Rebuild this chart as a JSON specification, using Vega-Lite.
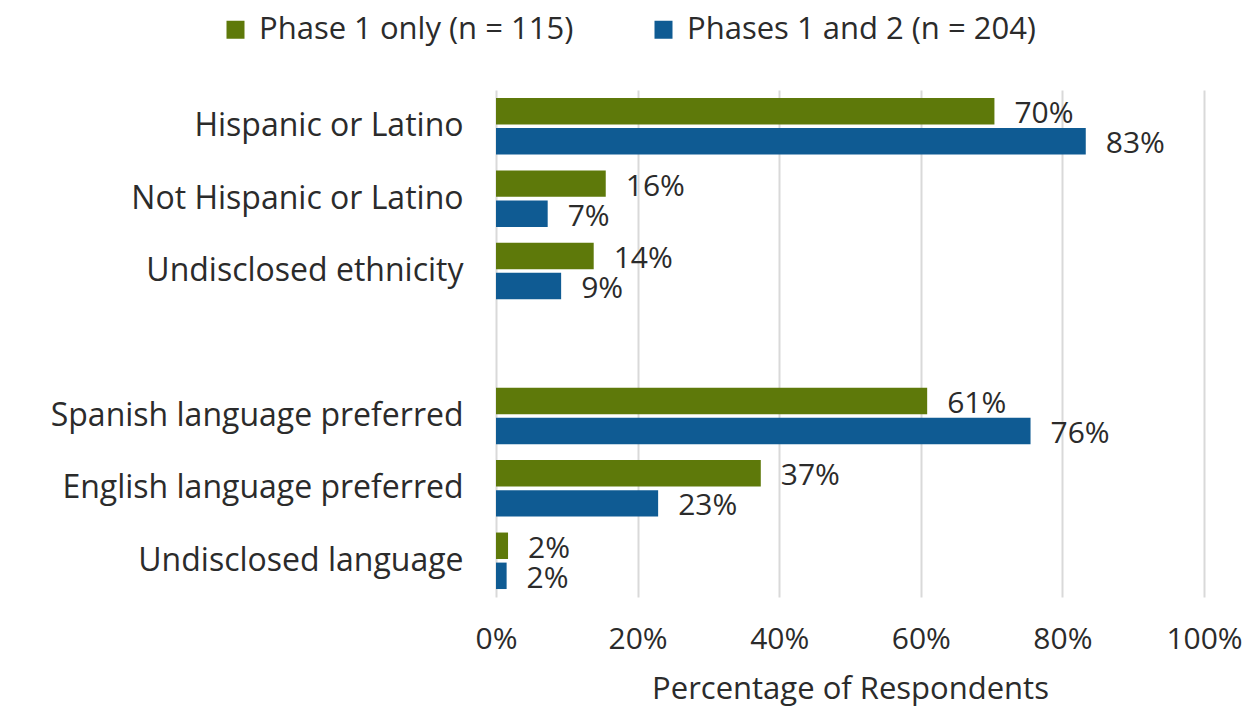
{
  "$schema": "https://vega.github.io/schema/vega-lite/v6.json",
  "autosize": {"type": "none"},
  "padding": {"left": 496, "top": 90, "right": 53, "bottom": 112},
  "width": 708,
  "height": 507,
  "background": "white",
  "config": {
    "view": {"stroke": null},
    "font": "Open Sans",
    "text": {"font": "Open Sans"}
  },
  "data": {
    "values": [
      {"category": "Hispanic or Latino", "series": "Phase 1 only (n = 115)", "value": 70.4, "label": "70%"},
      {"category": "Hispanic or Latino", "series": "Phases 1 and 2 (n = 204)", "value": 83.3, "label": "83%"},
      {"category": "Not Hispanic or Latino", "series": "Phase 1 only (n = 115)", "value": 15.5, "label": "16%"},
      {"category": "Not Hispanic or Latino", "series": "Phases 1 and 2 (n = 204)", "value": 7.3, "label": "7%"},
      {"category": "Undisclosed ethnicity", "series": "Phase 1 only (n = 115)", "value": 13.8, "label": "14%"},
      {"category": "Undisclosed ethnicity", "series": "Phases 1 and 2 (n = 204)", "value": 9.2, "label": "9%"},
      {"category": "Spanish language preferred", "series": "Phase 1 only (n = 115)", "value": 60.9, "label": "61%"},
      {"category": "Spanish language preferred", "series": "Phases 1 and 2 (n = 204)", "value": 75.5, "label": "76%"},
      {"category": "English language preferred", "series": "Phase 1 only (n = 115)", "value": 37.4, "label": "37%"},
      {"category": "English language preferred", "series": "Phases 1 and 2 (n = 204)", "value": 22.9, "label": "23%"},
      {"category": "Undisclosed language", "series": "Phase 1 only (n = 115)", "value": 1.7, "label": "2%"},
      {"category": "Undisclosed language", "series": "Phases 1 and 2 (n = 204)", "value": 1.5, "label": "2%"}
    ]
  },
  "encoding": {
    "y": {
      "field": "category",
      "type": "nominal",
      "scale": {
        "domain": ["Hispanic or Latino", "Not Hispanic or Latino", "Undisclosed ethnicity", " ", "Spanish language preferred", "English language preferred", "Undisclosed language"],
        "paddingInner": 0.22,
        "paddingOuter": 0.11
      },
      "axis": {
        "title": null,
        "domain": false,
        "ticks": false,
        "labelPadding": 33,
        "labelFontSize": 32,
        "labelColor": "#2b2b2b",
        "labelLimit": 600
      }
    },
    "yOffset": {
      "field": "series",
      "type": "nominal",
      "scale": {"domain": ["Phase 1 only (n = 115)", "Phases 1 and 2 (n = 204)"], "paddingInner": 0.12}
    },
    "x": {
      "field": "value",
      "type": "quantitative",
      "scale": {"domain": [0, 100]},
      "axis": {
        "values": [0, 20, 40, 60, 80, 100],
        "labelExpr": "datum.value + '%'",
        "labelFlush": false,
        "title": "Percentage of Respondents",
        "titleFontSize": 31,
        "titleFontWeight": "normal",
        "titleColor": "#2b2b2b",
        "titlePadding": 20,
        "labelFontSize": 30,
        "labelColor": "#2b2b2b",
        "labelPadding": 27,
        "domain": false,
        "ticks": false,
        "grid": true,
        "gridColor": "#d9d9d9",
        "gridWidth": 2
      }
    }
  },
  "layer": [
    {
      "mark": {"type": "bar"},
      "encoding": {
        "color": {
          "field": "series",
          "type": "nominal",
          "scale": {"domain": ["Phase 1 only (n = 115)", "Phases 1 and 2 (n = 204)"], "range": ["#5e790a", "#0f5b93"]},
          "legend": {
            "title": null,
            "orient": "none",
            "direction": "horizontal",
            "legendX": -276,
            "legendY": -76,
            "symbolType": "square",
            "symbolSize": 324,
            "symbolStrokeWidth": 0,
            "labelFontSize": 31,
            "labelColor": "#2b2b2b",
            "labelOffset": 8,
            "labelLimit": 500,
            "columnPadding": 74
          }
        }
      }
    },
    {
      "mark": {"type": "text", "align": "left", "baseline": "middle", "dx": 20, "dy": 3, "fontSize": 30, "color": "#2b2b2b"},
      "encoding": {
        "text": {"field": "label"}
      }
    }
  ]
}
